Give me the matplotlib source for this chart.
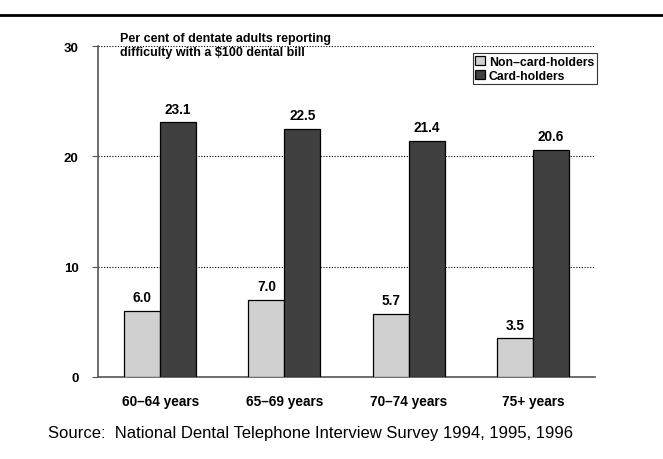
import matplotlib
matplotlib.use("Agg")
import matplotlib.pyplot as plt
from matplotlib.lines import Line2D
import numpy as np

plt.rcParams['font.family'] = ['Liberation Sans', 'DejaVu Sans']

groups = ["60–64 years", "65–69 years", "70–74 years", "75+ years"]
non_card = [6.0, 7.0, 5.7, 3.5]
card = [23.1, 22.5, 21.4, 20.6]
yticks = [0, 10, 20, 30]

fig = plt.figure(figsize=(6.63, 4.6), dpi=100)
ax = fig.add_axes([98 / 663, 1 - 378 / 460, 497 / 663, 331 / 460])

x = np.arange(len(groups))
w = 0.29
b1 = ax.bar(x - w / 2, non_card, w, color="#d0d0d0", edgecolor="black", linewidth=0.9,
            label="Non–card-holders", zorder=3)
b2 = ax.bar(x + w / 2, card, w, color="#404040", edgecolor="black", linewidth=0.9,
            label="Card-holders", zorder=3)

for rect, v in zip(list(b1) + list(b2), non_card + card):
    ax.text(rect.get_x() + rect.get_width() / 2, v + 0.6, f"{v:.1f}",
            ha="center", va="bottom", fontsize=9.8, fontweight="bold")

ax.set_xlim(-0.5, 3.5)
ax.set_ylim(0, 30)
ax.set_yticks(yticks)
ax.set_yticklabels([str(t) for t in yticks], fontsize=9.5, fontweight="bold")
ax.set_xticks(x)
ax.set_xticklabels(groups, fontsize=9.8, fontweight="bold")
ax.tick_params(axis="x", length=0, pad=12)
ax.tick_params(axis="y", length=4, direction="out", color="#555555", pad=10)
for yv in yticks[1:]:
    ax.axhline(yv, color="black", linestyle=(0, (1, 1.5)), linewidth=0.8, zorder=1)

for s in ["top", "right"]:
    ax.spines[s].set_visible(False)
ax.spines["left"].set_color("#555555")
ax.spines["bottom"].set_color("#555555")
ax.spines["left"].set_linewidth(1.2)
ax.spines["bottom"].set_linewidth(1.2)

leg = ax.legend(loc="upper right", bbox_to_anchor=(1.008, 0.985),
                prop={"weight": "bold", "size": 8.8}, frameon=True, fancybox=False,
                handlelength=0.8, handleheight=0.8, handletextpad=0.3,
                borderpad=0.2, labelspacing=0.15, borderaxespad=0.2)
leg.get_frame().set_edgecolor("black")
leg.get_frame().set_linewidth(0.8)

fig.text(120 / 663, 1 - 33 / 460,
         "Per cent of dentate adults reporting\ndifficulty with a $100 dental bill",
         ha="left", va="top", fontsize=9, fontweight="bold", linespacing=1.25)

fig.add_artist(Line2D([0, 1], [1 - 16 / 460, 1 - 16 / 460], color="black", linewidth=2))

fig.text(310 / 663, 1 - 434 / 460,
         "Source:  National Dental Telephone Interview Survey 1994, 1995, 1996",
         ha="center", va="center", fontsize=12)

fig.savefig("out.png", dpi=100)
